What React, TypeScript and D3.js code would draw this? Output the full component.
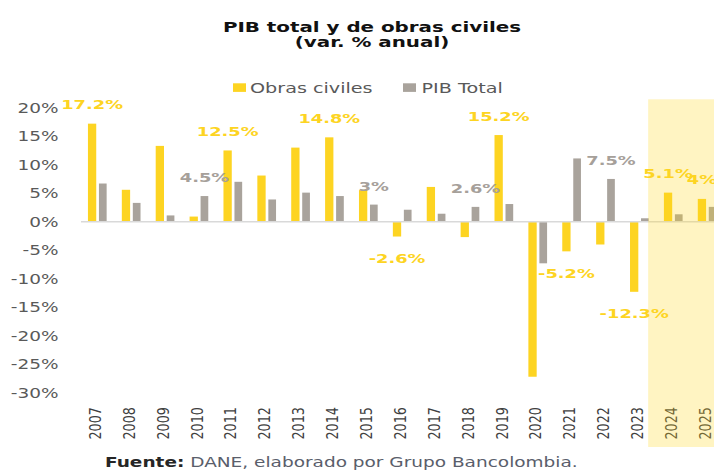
import React from "react";
import * as d3 from "d3";

const years = ["2007","2008","2009","2010","2011","2012","2013","2014","2015","2016","2017","2018","2019","2020","2021","2022","2023","2024","2025"];
const obrasCiviles = [17.2, 5.6, 13.3, 0.9, 12.5, 8.1, 13.0, 14.8, 5.6, -2.6, 6.1, -2.7, 15.2, -27.2, -5.2, -4.0, -12.3, 5.1, 4.0];
const pibTotal = [6.7, 3.3, 1.1, 4.5, 7.0, 3.9, 5.1, 4.5, 3.0, 2.1, 1.4, 2.6, 3.1, -7.3, 11.1, 7.5, 0.6, 1.3, 2.6];
const obrasLabels = ["17.2%", null, null, null, "12.5%", null, null, "14.8%", null, "-2.6%", null, null, "15.2%", null, "-5.2%", null, "-12.3%", "5.1%", "4%"];
const pibLabels = [null, null, null, "4.5%", null, null, null, null, "3%", null, null, "2.6%", null, null, null, "7.5%", null, null, null];
const yTicks = [20, 15, 10, 5, 0, -5, -10, -15, -20, -25, -30];
const highlightFrom = "2024";
const seriesNames = ["Obras civiles", "PIB Total"];

const YELLOW = "#FDD422";
const GREY = "#A9A39C";
const GREY_LABEL = "#A6A09A";
const SX = 1.37;
const FONT = "'DejaVu Sans', Verdana, sans-serif";

function T(props: any) {
  const { x, y, anchor, size, weight, fill, children, rot } = props;
  return (
    <text
      transform={`translate(${x},${y}) scale(${SX},1)${rot ? ` rotate(${rot})` : ""}`}
      textAnchor={anchor || "start"}
      fontFamily={FONT}
      fontSize={size}
      fontWeight={weight || "normal"}
      fill={fill}
    >
      {children}
    </text>
  );
}

export default function App() {
  const W = 714, H = 471;
  const step = 33.88;
  const x = d3.scaleBand<string>().domain(years).range([81, 81 + step * years.length]).padding(0);
  const y = d3.scaleLinear().domain([-30, 20]).range([392.7, 107.7]);
  const c = (yr: string) => (x(yr) as number) + x.bandwidth() / 2;
  const yw = 8.3, gw = 7.7;
  const yX = (yr: string) => c(yr) - 10;
  const gX = (yr: string) => c(yr) + 1;
  const y0 = y(0);
  const hlX = (x(highlightFrom) as number) - 0.26 * step;

  return (
    <svg width={W} height={H} style={{ position: "absolute", left: 0, top: 0, display: "block", background: "#fff" }}>
      {/* title */}
      <T x={372} y={31.5} anchor="middle" size={14.5} weight="bold" fill="#111">PIB total y de obras civiles</T>
      <T x={372} y={47} anchor="middle" size={14.5} weight="bold" fill="#111">(var. % anual)</T>

      {/* legend */}
      <rect x={233} y={83.3} width={13} height={8.6} fill={YELLOW} />
      <T x={250} y={93} size={14} fill="#595959">{seriesNames[0]}</T>
      <rect x={403} y={83.3} width={13} height={8.6} fill={GREY} />
      <T x={421.5} y={93} size={14} fill="#595959">{seriesNames[1]}</T>

      {/* y ticks */}
      {yTicks.map((v) => (
        <T key={v} x={58.5} y={y(v) + 5} anchor="end" size={13.5} fill="#595959">{`${v}%`}</T>
      ))}

      {/* bars */}
      {years.map((yr, i) => {
        const a = obrasCiviles[i], b = pibTotal[i];
        return (
          <g key={yr}>
            <rect x={yX(yr)} width={yw} y={Math.min(y(a), y0)} height={Math.abs(y(a) - y0)} fill={YELLOW} />
            <rect x={gX(yr)} width={gw} y={Math.min(y(b), y0)} height={Math.abs(y(b) - y0)} fill={GREY} />
          </g>
        );
      })}

      {/* zero line */}
      <line x1={81} x2={W} y1={y0} y2={y0} stroke="#D9D9D9" strokeWidth={1.5} />

      {/* year labels */}
      {years.map((yr) => (
        <text
          key={yr}
          transform={`translate(${c(yr) + 3},407) scale(1.25,1) rotate(-90)`}
          textAnchor="end"
          fontFamily={FONT}
          fontSize={12.8}
          fill="#404040"
        >
          {yr}
        </text>
      ))}

      {/* highlight overlay */}
      <rect x={hlX} y={99.3} width={W - hlX} height={447 - 99.3} fill="#FFD61F" opacity={0.27} />

      {/* data labels */}
      {years.map((yr, i) => {
        const t = obrasLabels[i];
        if (!t) return null;
        const v = obrasCiviles[i];
        const ly = v >= 0 ? y(v) - 14.5 : y(v) + 26.5;
        return (
          <T key={"o" + yr} x={yX(yr) + yw / 2} y={ly} anchor="middle" size={13} weight="bold" fill={YELLOW}>{t}</T>
        );
      })}
      {years.map((yr, i) => {
        const t = pibLabels[i];
        if (!t) return null;
        const v = pibTotal[i];
        const ly = v >= 0 ? y(v) - 14 : y(v) + 26.5;
        return (
          <T key={"p" + yr} x={gX(yr) + gw / 2} y={ly} anchor="middle" size={13} weight="bold" fill={GREY_LABEL}>{t}</T>
        );
      })}

      {/* source */}
      <text transform={`translate(105,467) scale(${SX},1)`} fontFamily={FONT} fontSize={13.5}>
        <tspan fontWeight="bold" fill="#262626">Fuente:</tspan>
        <tspan fill="#5A5E6B"> DANE, elaborado por Grupo Bancolombia.</tspan>
      </text>
    </svg>
  );
}
